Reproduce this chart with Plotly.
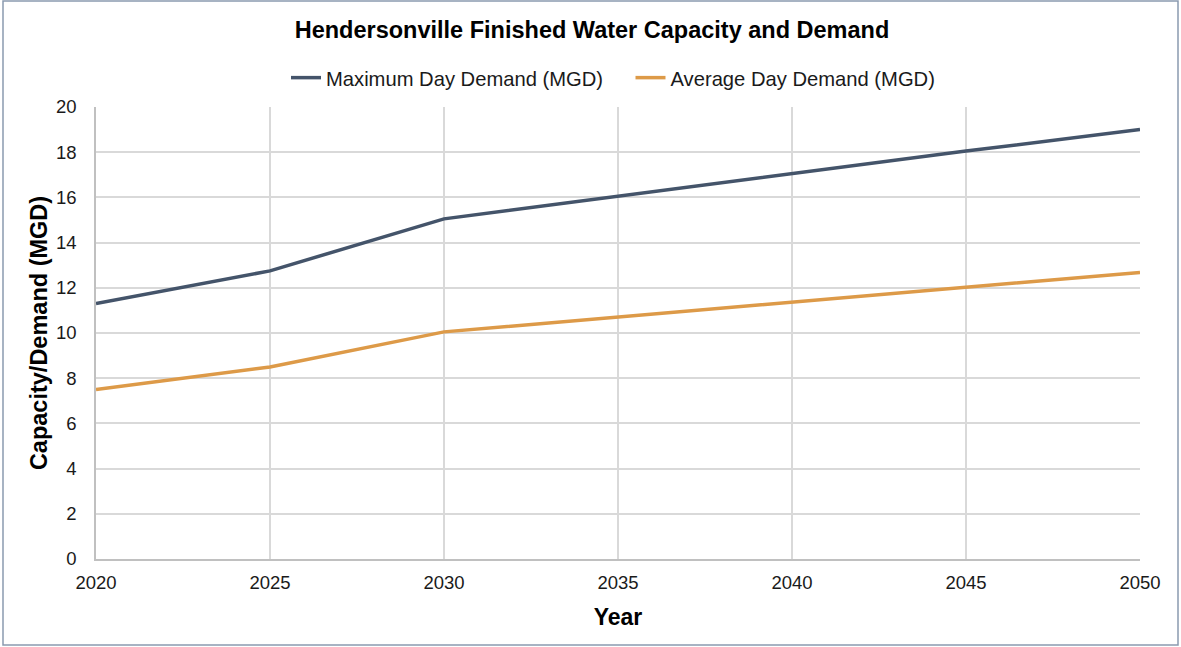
import plotly.graph_objects as go

years = [2020, 2025, 2030, 2035, 2040, 2045, 2050]
max_day = [11.3, 12.75, 15.05, 16.05, 17.05, 18.05, 19.0]
avg_day = [7.5, 8.5, 10.05, 10.7, 11.35, 12.0, 12.68]
series_names = ["Maximum Day Demand (MGD)", "Average Day Demand (MGD)"]

W, H = 1181, 647
L, R, T, B = 96, 41, 107, 88
pw, ph = W - L - R, H - T - B

fig = go.Figure()
fig.add_trace(go.Scatter(x=years, y=max_day, mode="lines", name=series_names[0] + "&nbsp;&nbsp;&nbsp;&nbsp;",
                         line=dict(color="#44546a", width=3.5)))
fig.add_trace(go.Scatter(x=years, y=avg_day, mode="lines", name=series_names[1],
                         line=dict(color="#dd9a48", width=3.5)))

font_fam = "Liberation Sans, Arial, sans-serif"
fig.update_layout(
    width=W, height=H,
    margin=dict(l=L, r=R, t=T, b=B),
    paper_bgcolor="white", plot_bgcolor="white",
    font=dict(family=font_fam, size=16, color="#000000"),
    title=dict(text="<b>Hendersonville Finished Water Capacity and Demand</b>",
               x=(592 / W), xanchor="center", y=1 - 30 / H, yanchor="middle",
               font=dict(size=23.5, color="#000000")),
    legend=dict(orientation="h", x=(613 - L) / pw, xanchor="center", y=1 + (107 - 78) / ph, yanchor="middle",
                font=dict(size=20.2, color="#1a1a1a"), tracegroupgap=0),
    showlegend=True,
    xaxis=dict(range=[2020, 2050], tickvals=years, ticktext=[str(y) for y in years],
               showgrid=True, gridcolor="#d9d9d9", gridwidth=1.5,
               showline=True, linecolor="#c0c0c0", linewidth=1.5, zeroline=False,
               ticks="", ticklabelstandoff=6, tickfont=dict(size=18.5, color="#1a1a1a"),
               title=dict(text="<b>Year</b>", font=dict(size=23, color="#000000"), standoff=17)),
    yaxis=dict(range=[0, 20], dtick=2, showgrid=True, gridcolor="#d9d9d9", gridwidth=1.5,
               showline=True, linecolor="#c0c0c0", linewidth=1.5, zeroline=False,
               ticks="", ticklabelstandoff=14, tickfont=dict(size=18.5, color="#1a1a1a"),
               title=dict(text="<b>Capacity/Demand (MGD)</b>", font=dict(size=23.5, color="#000000"), standoff=2)),
)

fig.add_shape(type="rect", xref="paper", yref="paper",
              x0=(3 - L) / pw, x1=(1178 - L) / pw,
              y0=(559 - 645) / ph, y1=(559 - 1) / ph,
              line=dict(color="#8a9ab0", width=1.5), fillcolor="rgba(0,0,0,0)", layer="below")

fig.write_html("out.html", config={"displayModeBar": False},
               post_script="document.body.style.margin='0';document.body.style.padding='0';document.body.style.overflow='hidden';")
